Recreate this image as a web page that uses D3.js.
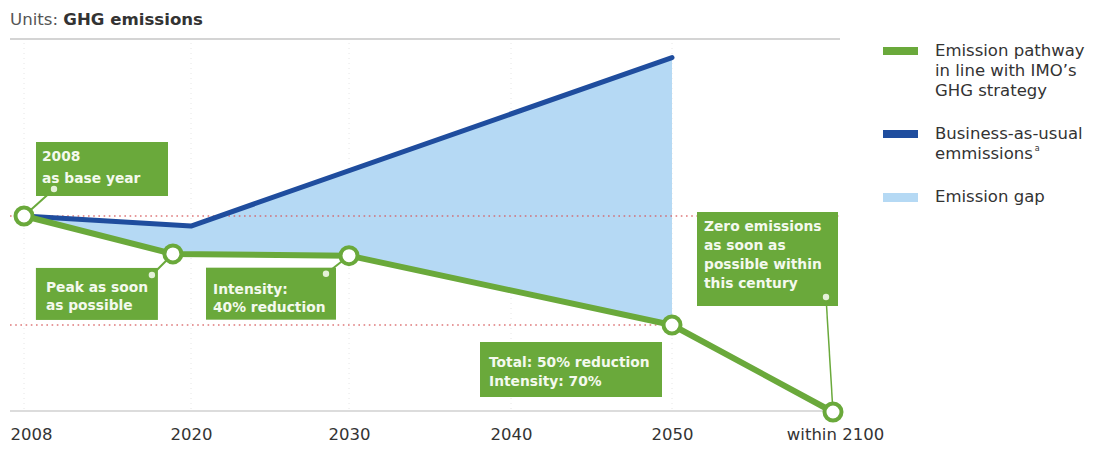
<!DOCTYPE html>
<html>
<head>
<meta charset="utf-8">
<script src="https://cdn.jsdelivr.net/npm/d3@7"></script>
<style>
  html, body { margin: 0; padding: 0; background: #fff; }
  svg { display: block; font-family: "DejaVu Sans", "Open Sans", sans-serif; }
</style>
</head>
<body>
<div id="chart"></div>
<script>
// ---- data ----
const tickYears = [2008, 2020, 2030, 2040, 2050, 2100];
const tickLabels = ["2008", "2020", "2030", "2040", "2050", "within 2100"];

// Emission pathway in line with IMO's GHG strategy (index, 2008 = 100)
const pathwayYears = [2008, 2018.7, 2030, 2050, 2100];
const pathwayValues = [100, 82.6, 81.8, 50, 0];

// Business-as-usual emissions (index, 2008 = 100)
const bauYears = [2008, 2020, 2050];
const bauValues = [100, 95.4, 172.5];

// Reference levels (dotted red lines)
const refLevels = [100, 50];

const annotations = [
  { lines: ["2008", "as base year"], year: 2008, value: 100 },
  { lines: ["Peak as soon", "as possible"], year: 2018.7, value: 82.6 },
  { lines: ["Intensity:", "40% reduction"], year: 2030, value: 81.8 },
  { lines: ["Total: 50% reduction", "Intensity: 70%"], year: 2050, value: 50 },
  { lines: ["Zero emissions", "as soon as", "possible within", "this century"], year: 2100, value: 0 }
];

const legendItems = [
  { lines: ["Emission pathway", "in line with IMO’s", "GHG strategy"], color: "#6aa93b" },
  { lines: ["Business-as-usual", "emmissions"], color: "#1f4d9e", sup: "a" },
  { lines: ["Emission gap"], color: "#b5d9f4" }
];

// ---- layout ----
const W = 1094, H = 450;
const GREEN = "#6aa93b", BLUE = "#1f4d9e", GAP = "#b5d9f4", RED = "#d8575a";

const x = d3.scaleLinear()
  .domain(tickYears)
  .range([24, 191, 349, 511, 672, 833]);
const y = d3.scaleLinear()
  .domain([0, 50, 100, 181])
  .range([412, 325, 216, 39]);

const svg = d3.select("#chart").append("svg").attr("width", W).attr("height", H);

// title
const title = svg.append("text").attr("x", 10).attr("y", 25)
  .attr("font-size", 16.6).attr("fill", "#555");
title.append("tspan").text("Units: ");
title.append("tspan").attr("font-weight", 700).attr("fill", "#333").text("GHG emissions");

// top frame line
svg.append("line").attr("x1", 10).attr("x2", 840)
  .attr("y1", y(181)).attr("y2", y(181))
  .attr("stroke", "#d4d4d4").attr("stroke-width", 2);

// faint vertical gridlines
svg.append("g").selectAll("line").data(tickYears.slice(0, 5)).join("line")
  .attr("x1", d => x(d)).attr("x2", d => x(d))
  .attr("y1", y(181) + 4).attr("y2", y(0))
  .attr("stroke", "#e6e6e6").attr("stroke-width", 1)
  .attr("stroke-dasharray", "1,4");

// emission gap area (between BAU and pathway from 2008 to 2050)
const gapYears = [2008, 2018.7, 2020, 2030, 2050];
function interp(xs, vs, t) {
  for (let i = 0; i < xs.length - 1; i++) {
    if (t >= xs[i] && t <= xs[i + 1]) {
      const f = (t - xs[i]) / (xs[i + 1] - xs[i]);
      return vs[i] + f * (vs[i + 1] - vs[i]);
    }
  }
  return vs[vs.length - 1];
}
const gapData = gapYears.map(t => ({ t, top: interp(bauYears, bauValues, t), bot: interp(pathwayYears, pathwayValues, t) }));
svg.append("path").datum(gapData)
  .attr("fill", GAP)
  .attr("d", d3.area().x(d => x(d.t)).y0(d => y(d.bot)).y1(d => y(d.top)));

// red dotted reference lines
svg.append("line").attr("x1", 10).attr("x2", 840)
  .attr("y1", y(refLevels[0])).attr("y2", y(refLevels[0]))
  .attr("stroke", RED).attr("stroke-width", 1.6).attr("stroke-dasharray", "1.6,3.6").attr("opacity", 0.8);
svg.append("line").attr("x1", 10).attr("x2", 660)
  .attr("y1", y(refLevels[1])).attr("y2", y(refLevels[1]))
  .attr("stroke", RED).attr("stroke-width", 1.6).attr("stroke-dasharray", "1.6,3.6").attr("opacity", 0.8);

// bottom axis
const axis = svg.append("g").attr("transform", `translate(0,${y(0) - 1})`)
  .call(d3.axisBottom(x).tickValues(tickYears).tickSize(0).tickPadding(17)
    .tickFormat((d, i) => tickLabels[i]));
axis.select(".domain").remove();
axis.append("line").attr("x1", 10).attr("x2", 840).attr("y1", 0).attr("y2", 0)
  .attr("stroke", "#dcdcdc").attr("stroke-width", 2);
axis.selectAll("text").attr("font-size", 16.5).attr("fill", "#333")
  .attr("font-family", "'DejaVu Sans', 'Open Sans', sans-serif");
axis.selectAll(".tick").filter(d => d === 2008).select("text")
  .attr("text-anchor", "start").attr("x", -14);
axis.selectAll(".tick").filter(d => d === 2100).select("text").attr("x", 2);

// BAU line
svg.append("path").datum(bauYears.map((t, i) => [t, bauValues[i]]))
  .attr("fill", "none").attr("stroke", BLUE).attr("stroke-width", 5)
  .attr("stroke-linecap", "round").attr("stroke-linejoin", "round")
  .attr("d", d3.line().x(d => x(d[0])).y(d => y(d[1])));

// pathway line
svg.append("path").datum(pathwayYears.map((t, i) => [t, pathwayValues[i]]))
  .attr("fill", "none").attr("stroke", GREEN).attr("stroke-width", 6)
  .attr("stroke-linejoin", "round")
  .attr("d", d3.line().x(d => x(d[0])).y(d => y(d[1])));

// annotation boxes (placed relative to their points)
const boxSpecs = [
  { dx: 12, dy: -74, w: 132, h: 54, dot: [18, 47], tx: 6, ty: 19 },
  { dx: -137, dy: 14, w: 122, h: 52, dot: [116, 7], tx: 10, ty: 24 },
  { dx: -143, dy: 12, w: 130, h: 52, dot: [120, 6], tx: 7, ty: 26 },
  { dx: -192, dy: 17, w: 182, h: 55, dot: null, tx: 9, ty: 25 },
  { dx: -136, dy: -200, w: 141, h: 94, dot: [129, 85], tx: 7, ty: 19 }
];
const lineH = [22, 18.5, 18.5, 18.5, 19];
annotations.forEach((a, i) => {
  const s = boxSpecs[i];
  const px = x(a.year), py = y(a.value);
  const bx = px + s.dx, by = py + s.dy;
  if (s.dot) {
    svg.append("line").attr("x1", bx + s.dot[0]).attr("y1", by + s.dot[1])
      .attr("x2", px).attr("y2", py)
      .attr("stroke", GREEN).attr("stroke-width", i === 4 ? 1.5 : 2);
  }
  svg.append("rect").attr("x", bx).attr("y", by).attr("width", s.w).attr("height", s.h)
    .attr("fill", GREEN);
  if (s.dot) {
    svg.append("circle").attr("cx", bx + s.dot[0]).attr("cy", by + s.dot[1]).attr("r", 3.2)
      .attr("fill", "#e4f1d8");
  }
  const t = svg.append("text").attr("x", bx + s.tx).attr("y", by + s.ty)
    .attr("fill", "#f4f9ee").attr("font-size", 13.8).attr("font-weight", 700);
  a.lines.forEach((l, j) => t.append("tspan").attr("x", bx + s.tx).attr("dy", j ? lineH[i] : 0).text(l));
});

// pathway markers
svg.append("g").selectAll("circle")
  .data(pathwayYears.map((t, i) => [t, pathwayValues[i]]))
  .join("circle")
  .attr("cx", d => x(d[0])).attr("cy", d => y(d[1])).attr("r", 8.5)
  .attr("fill", "#fff").attr("stroke", GREEN).attr("stroke-width", 4);

// legend
const leg = svg.append("g");
const legY = [47, 130, 193];
legendItems.forEach((it, i) => {
  leg.append("rect").attr("x", 883).attr("y", legY[i]).attr("width", 35).attr("height", i === 2 ? 9 : 8)
    .attr("fill", it.color);
  const t = leg.append("text").attr("x", 935).attr("y", legY[i] + 9)
    .attr("font-size", 16.5).attr("fill", "#333");
  it.lines.forEach((l, j) => t.append("tspan").attr("x", 935).attr("dy", j ? 20 : 0).text(l));
  if (it.sup) t.append("tspan").attr("font-size", 8).attr("dy", -8).attr("dx", 2).text(it.sup);
});
</script>
</body>
</html>
